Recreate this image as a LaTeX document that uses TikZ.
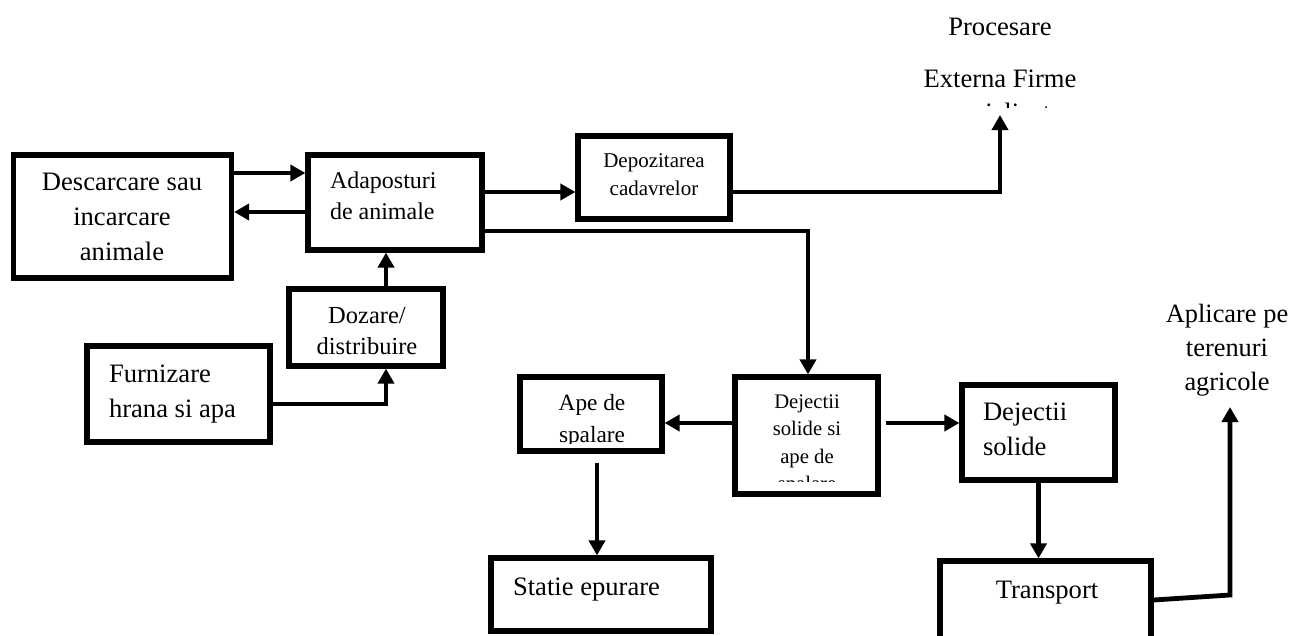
\documentclass[tikz,border=0pt]{standalone}
\usepackage{fontspec}
\setmainfont{Liberation Serif}
\usetikzlibrary{arrows.meta,calc}
\tikzset{
  box/.style={draw, line width=5.2pt, rectangle, inner sep=0pt},
  txt/.style={inner sep=0pt, outer sep=0pt},
  arr/.style={line width=4.8pt, -{Triangle[length=15pt,width=16pt]}},
  arrthin/.style={line width=4pt, -{Triangle[length=15pt,width=16pt]}},
  plain/.style={line width=4.8pt}
}
\newcommand{\Lg}{\fontsize{26.6}{35}\selectfont}
\begin{document}
\begin{tikzpicture}[x=1pt,y=-1pt]
\useasboundingbox (0,0) rectangle (1293,635);
% boxes
\node[box, minimum width=218pt, minimum height=123pt] (desc) at (122.5,216.5) {};
\node[box, minimum width=174pt, minimum height=95pt] (adap) at (395,202.5) {};
\node[box, minimum width=154pt, minimum height=77pt] (doz) at (366,327.5) {};
\node[box, minimum width=183pt, minimum height=96pt] (furn) at (178.5,394) {};
\node[box, minimum width=152pt, minimum height=83pt] (depo) at (654,177.5) {};
\node[box, minimum width=142pt, minimum height=74pt] (ape) at (591,414) {};
\node[box, minimum width=143pt, minimum height=117pt] (dej) at (806.5,435.5) {};
\node[box, minimum width=153pt, minimum height=95pt] (dejs) at (1038.5,432.5) {};
\node[box, minimum width=220pt, minimum height=73pt] (stat) at (601,594.5) {};
\node[box, minimum width=211pt, minimum height=100pt] (trans) at (1045.5,611) {};
% texts
\node[txt, anchor=base] (tdesc) at (122,190) {\Lg\begin{tabular}[t]{@{}c@{}}Descarcare sau\\incarcare\\animale\end{tabular}};
\node[txt, anchor=base west] (tadap) at (330,188) {\fontsize{24}{31}\selectfont\begin{tabular}[t]{@{}l@{}}Adaposturi\\de animale\end{tabular}};
\begin{scope}
\clip (289,289) rectangle (443,354);
\node[txt, anchor=base] (tdoz) at (367,323) {\fontsize{24.5}{31}\selectfont\begin{tabular}[t]{@{}c@{}}Dozare/\\distribuire\end{tabular}};
\end{scope}
\node[txt, anchor=base west] (tfurn) at (109,382) {\Lg\begin{tabular}[t]{@{}l@{}}Furnizare\\hrana si apa\end{tabular}};
\node[txt, anchor=base] (tdepo) at (654,167) {\fontsize{21}{28}\selectfont\begin{tabular}[t]{@{}c@{}}Depozitarea\\cadavrelor\end{tabular}};
\begin{scope}
\clip (880,0) rectangle (1120,107);
\node[txt, anchor=base] (tproc) at (1000,35) {\fontsize{26.6}{34}\selectfont\begin{tabular}[t]{@{}c@{}}Procesare\\[18pt]Externa Firme\\specializate\end{tabular}};
\end{scope}
\begin{scope}
\clip (520,377) rectangle (662,443);
\node[txt, anchor=base] (tape) at (592,410) {\fontsize{23.3}{32}\selectfont\begin{tabular}[t]{@{}c@{}}Ape de\\spalare\end{tabular}};
\end{scope}
\begin{scope}
\clip (735,377) rectangle (878,481);
\node[txt, anchor=base] (tdej) at (807,408) {\fontsize{20.7}{27.5}\selectfont\begin{tabular}[t]{@{}c@{}}Dejectii\\solide si\\ape de\\spalare\end{tabular}};
\end{scope}
\node[txt, anchor=base west] (tdejs) at (983,420) {\Lg\begin{tabular}[t]{@{}l@{}}Dejectii\\solide\end{tabular}};
\node[txt, anchor=base west] (tstat) at (513,595) {\Lg Statie epurare};
\node[txt, anchor=base] (ttrans) at (1047,598) {\Lg Transport};
\node[txt, anchor=base] (tapl) at (1227,322) {\fontsize{26.4}{34}\selectfont\begin{tabular}[t]{@{}c@{}}Aplicare pe\\terenuri\\agricole\end{tabular}};
% free ends
\coordinate (procIn) at (1000,115);
\coordinate (aplBend) at (1230,595);
\coordinate (aplIn) at (1230,407);
% connectors
\draw[arr] (desc.east |- 0,173) -- (adap.west |- 0,173);
\draw[arr] (adap.west |- 0,212) -- (desc.east |- 0,212);
\draw[arr] (386,0 |- doz.north) -- (386,0 |- adap.south);
\draw[arr] (furn.east |- 0,404) -| (386,0 |- doz.south);
\draw[arr] (adap.east |- 0,192) -- (depo.west |- 0,192);
\draw[arr] (depo.east |- 0,192) -| (procIn);
\draw[arrthin] (adap.east |- 0,231) -| (808,0 |- dej.north);
\draw[arr] (dej.west |- 0,423) -- (ape.east |- 0,423);
\draw[arr] ($(dej.east |- 0,423)+(5,0)$) -- (dejs.west |- 0,423);
\draw[arr] ($(ape.south -| 597,0)+(0,9)$) -- (597,0 |- stat.north);
\draw[arr] (dejs.south) -- (dejs.south |- trans.north);
\draw[arr] (trans.east |- 0,600) -- (aplBend) -- (aplIn);
\end{tikzpicture}
\end{document}
